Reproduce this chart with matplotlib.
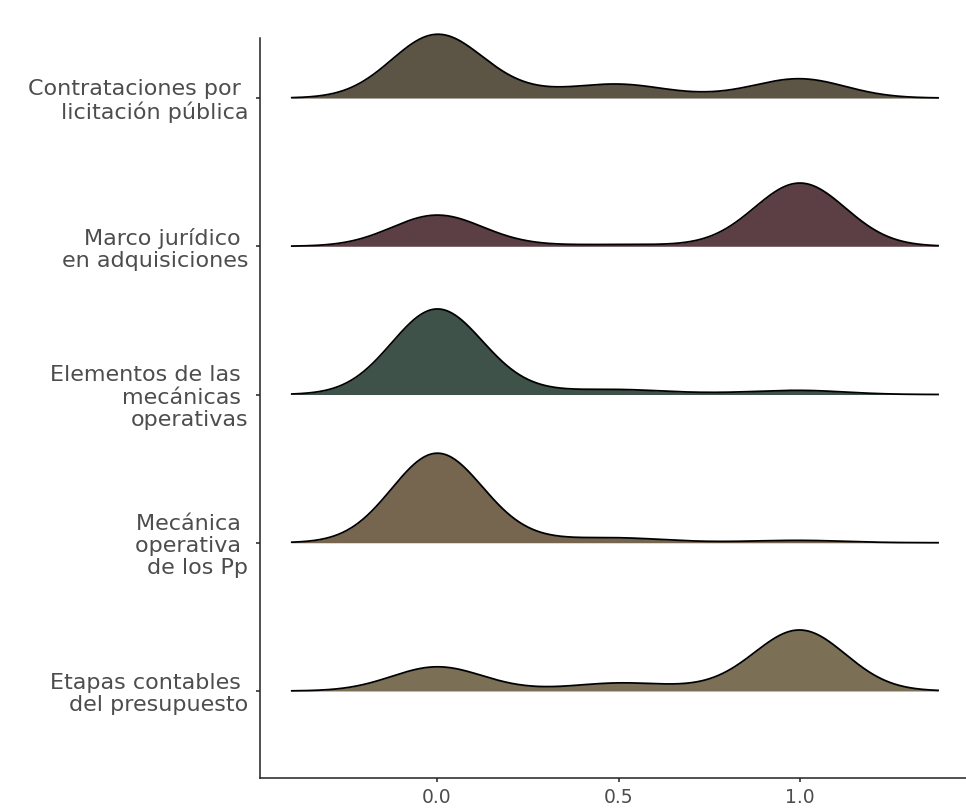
import numpy as np
import matplotlib
matplotlib.use('Agg')
import matplotlib.pyplot as plt

# categorias (de arriba hacia abajo)
categorias = [
    'Contrataciones por \nlicitación pública',
    'Marco jurídico \nen adquisiciones',
    'Elementos de las \nmecánicas \noperativas',
    'Mecánica \noperativa \nde los Pp',
    'Etapas contables \ndel presupuesto',
]
colores = ['#5c5546', '#5c3f45', '#3f5249', '#76654f', '#7b7056']

# valores observados y peso de cada valor por categoria
valores = [0.0, 0.25, 0.5, 0.75, 1.0]
pesos_contrataciones = [63, 5, 13, 2, 19]
pesos_marco = [31, 1, 1.5, 1, 63]
pesos_elementos = [85, 3, 4.5, 1, 4]
pesos_mecanica = [89, 3, 4.5, 0.5, 2.3]
pesos_etapas = [24, 1, 7.5, 3, 60.5]
pesos = [pesos_contrataciones, pesos_marco, pesos_elementos, pesos_mecanica, pesos_etapas]

ticks_x = [0.0, 0.5, 1.0]
etiquetas_x = ['0.0', '0.5', '1.0']

bw = 0.125
escala = 0.604
x = np.linspace(-0.4, 1.38, 600)


def densidad(vals, w, xs, bw):
    d = np.zeros_like(xs)
    for v, p in zip(vals, w):
        d += p * np.exp(-(xs - v) ** 2 / (2 * bw ** 2))
    return d


dens = [densidad(valores, w, x, bw) for w in pesos]
maximo = max(d.max() for d in dens)

plt.rcParams['font.family'] = ['DejaVu Sans']
fig = plt.figure(figsize=(9.66, 8.08), dpi=100)
ax = fig.add_axes([260 / 966, 1 - 778 / 808, (966 - 260) / 966, (778 - 38) / 808])

n = len(categorias)
for i, (d, c) in enumerate(zip(dens, colores)):
    base = n - i
    h = d / maximo * escala
    ax.fill_between(x, base, base + h, color=c, lw=0, zorder=2 + i, clip_on=False)
    ax.plot(x, base + h, color='black', lw=1.3, zorder=2 + i, clip_on=False)

ax.set_xlim(-0.4876, 1.457)
ax.set_ylim(0.413, 5.405)
ax.set_yticks([n - i for i in range(n)])
ax.set_yticklabels(categorias, fontsize=16, color='#4d4d4d', linespacing=1.13)
ax.set_xticks(ticks_x)
ax.set_xticklabels(etiquetas_x, fontsize=13.5, color='#4d4d4d')

for s in ['top', 'right']:
    ax.spines[s].set_visible(False)
for s in ['left', 'bottom']:
    ax.spines[s].set_color('#222222')
    ax.spines[s].set_linewidth(1.1)
ax.tick_params(axis='both', length=3, width=1.1, color='#222222')
ax.tick_params(axis='y', pad=5.5)
ax.tick_params(axis='x', pad=4)

fig.savefig('out.png', dpi=100, facecolor='white')
